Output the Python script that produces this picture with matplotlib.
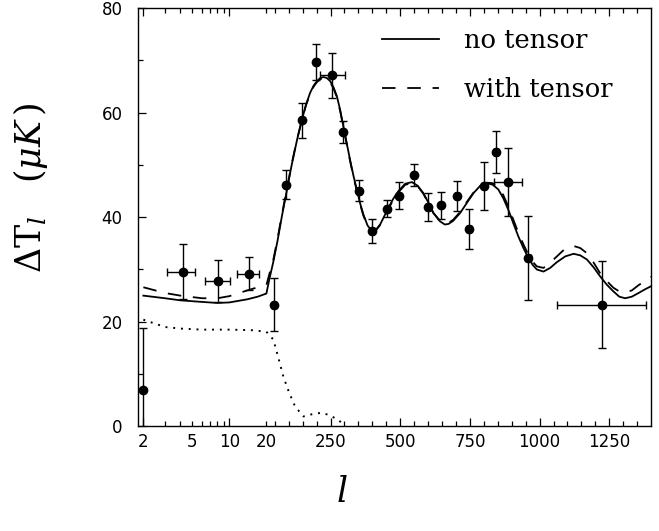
import numpy as np
import matplotlib
matplotlib.use('Agg')
import matplotlib.pyplot as plt
from matplotlib.ticker import FixedLocator, FuncFormatter
from matplotlib.lines import Line2D

plt.rcParams['mathtext.fontset'] = 'dejavuserif'

# --- data ---
# low-l points (log part of the axis)
l_low = [2, 4.18, 8.15, 14.5]
dt_low = [7.0, 29.6, 27.8, 29.2]
dt_low_err = [11.8, 5.2, 4.0, 3.1]
l_low_minus = [0, 1.08, 1.8, 3.0]
l_low_plus = [0, 1.08, 1.95, 3.0]

# high-l band powers
l_hi = [49, 91, 146, 198, 256, 296, 352, 400, 452, 497, 548, 601, 648,
        705, 746, 802, 844, 888, 960, 1223]
dt_hi = [23.3, 46.2, 58.5, 69.7, 67.1, 56.3, 45.1, 37.3, 41.6, 44.1, 48.1,
         41.9, 42.3, 44.0, 37.7, 45.9, 52.5, 46.7, 32.2, 23.3]
dt_hi_err = [5.0, 2.8, 3.4, 3.4, 4.3, 2.1, 2.0, 2.3, 1.6, 2.6, 2.1, 2.7,
             2.6, 2.9, 3.8, 4.6, 4.0, 6.5, 8.0, 8.4]
l_hi_err = [7, 7, 7, 7, 45, 7, 7, 7, 7, 7, 7, 7, 7, 7, 7, 7, 7, 50, 10, 160]

# model curves
l_model = [2, 3, 4, 6, 8, 10, 14, 17, 20, 30, 45, 60, 75, 93, 110, 130,
           147, 162, 177, 190, 201, 213, 225, 237, 249, 261, 273, 285, 296,
           308, 320, 332, 344, 356, 368, 383, 398, 413, 428, 443, 458, 476,
           494, 518, 542, 563, 583, 601, 619, 643, 660, 673, 690, 715, 740,
           763, 787, 811, 832, 852, 870, 888, 906, 924, 942, 960, 975, 990,
           1014, 1038, 1062, 1092, 1122, 1146, 1170, 1194, 1217, 1241, 1265,
           1286, 1307, 1331, 1355, 1378, 1400]
dt_notens = [25.0, 24.5, 24.1, 23.8, 23.6, 23.7, 24.3, 24.8, 25.4, 28.0,
             31.5, 35.5, 40.0, 45.0, 49.8, 54.8, 58.5, 61.5, 63.8, 65.2,
             66.0, 66.6, 66.8, 66.6, 66.0, 64.8, 63.1, 60.4, 57.4, 54.2,
             51.0, 48.0, 45.3, 42.7, 40.5, 38.4, 37.4, 37.6, 38.6, 40.2,
             41.8, 43.6, 45.0, 46.4, 46.7, 46.0, 44.6, 42.8, 40.8, 39.2,
             38.6, 38.7, 39.3, 40.8, 42.8, 44.6, 46.0, 46.5, 46.2, 45.3,
             43.6, 41.4, 38.8, 36.3, 34.1, 32.2, 30.9, 30.0, 29.6, 30.3,
             31.4, 32.5, 33.0, 32.7, 31.9, 30.4, 28.7, 27.1, 25.8, 24.8,
             24.5, 24.8, 25.5, 26.2, 26.8]
dt_tens = [26.6, 25.5, 25.0, 24.5, 24.5, 24.9, 26.0, 26.6, 27.0, 29.0,
           31.9, 35.9, 40.3, 45.3, 50.0, 54.9, 58.5, 61.4, 63.6, 65.0,
           65.8, 66.4, 66.6, 66.4, 65.8, 64.6, 62.9, 60.2, 57.2, 54.0,
           50.8, 47.8, 45.1, 42.5, 40.3, 38.3, 37.3, 37.5, 38.5, 40.0,
           41.6, 43.4, 44.8, 46.2, 46.5, 45.9, 44.5, 42.7, 40.8, 39.3,
           38.8, 38.9, 39.5, 41.0, 43.0, 44.7, 46.1, 46.6, 46.5, 45.8,
           44.2, 42.0, 39.5, 37.0, 34.8, 32.8, 31.5, 30.6, 30.3, 31.3,
           32.5, 34.0, 34.5, 34.1, 33.1, 31.3, 29.3, 27.8, 26.5, 25.8,
           25.6, 26.0, 27.0, 27.8, 28.6]

l_tensonly = [2, 3, 4, 6, 10, 15, 20, 45, 63, 81, 102, 123, 153, 189, 219,
              249, 278, 300]
dt_tensonly = [20.4, 19.0, 18.7, 18.5, 18.5, 18.4, 18.1, 16.6, 13.1, 9.5,
               6.4, 3.8, 1.9, 2.4, 2.6, 2.1, 1.2, 0.3]

x_major = [2, 10, 250, 500, 750, 1000, 1250]
x_minor = [3, 4, 5, 6, 7, 8, 9, 20] + [v for v in range(50, 1400, 50)
                                      if v % 250 != 0]
x_minor_labels = {5: '5', 20: '20'}

# axis: log from 2 to 20, linear above 20
L_BREAK = 20.0
K = 0.2787 / 123.0   # decades per unit of l on the linear part


def fwd(l):
    l = np.asarray(l, dtype=float)
    ub = np.log10(L_BREAK)
    lg = np.log10(np.clip(l, 1e-3, None))
    return np.where(l <= L_BREAK, lg, ub + (l - L_BREAK) * K)


def inv(u):
    u = np.asarray(u, dtype=float)
    ub = np.log10(L_BREAK)
    return np.where(u <= ub, 10 ** np.minimum(u, ub), L_BREAK + (u - ub) / K)


fig = plt.figure(figsize=(6.59, 5.31), dpi=100)
ax = fig.add_axes([0.209, 0.197, 0.779, 0.788])
ax.set_xscale('function', functions=(fwd, inv))

ax.plot(l_model, dt_notens, color='black', lw=1.3, zorder=3)
ax.plot(l_model, dt_tens, color='black', lw=1.3, dashes=(7.5, 6.5), zorder=3)
ax.plot(l_tensonly, dt_tensonly, color='black', lw=1.4,
        linestyle=(0, (1, 3)), zorder=3)

ekw = dict(fmt='o', color='black', ms=6, elinewidth=1.0, capsize=3,
           capthick=1.0, zorder=4)
ax.errorbar(l_low, dt_low, yerr=dt_low_err, xerr=[l_low_minus, l_low_plus],
            **ekw)
ax.errorbar(l_hi, dt_hi, yerr=dt_hi_err, xerr=l_hi_err, **ekw)

ax.set_xlim(1.8, 1400)
ax.set_ylim(0, 80)

ax.xaxis.set_major_locator(FixedLocator(x_major))
ax.xaxis.set_minor_locator(FixedLocator(x_minor))
ax.xaxis.set_major_formatter(FuncFormatter(lambda v, p: '%d' % round(v)))
ax.xaxis.set_minor_formatter(
    FuncFormatter(lambda v, p: x_minor_labels.get(int(round(v)), '')))
ax.set_yticks([0, 20, 40, 60, 80])
ax.set_yticks([10, 30, 50, 70], minor=True)

ax.tick_params(which='both', direction='in', top=True, right=False,
               width=0.9, labelsize=12)
ax.tick_params(which='major', length=6)
ax.tick_params(which='minor', length=3.5)
ax.tick_params(axis='x', which='both', pad=5)
ax.tick_params(axis='y', which='both', pad=11)
for s in ax.spines.values():
    s.set_linewidth(1.0)

ax.set_ylabel(r'$\Delta\mathrm{T}_{l}\ \ \ (\mu K\,)$', fontsize=25)
ax.yaxis.set_label_coords(-0.17, 0.57)
ax.set_xlabel(r'$l$', fontsize=25)
ax.xaxis.set_label_coords(0.398, -0.115)

handles = [Line2D([], [], color='black', lw=1.3),
           Line2D([], [], color='black', lw=1.3, dashes=(7.5, 6.5))]
ax.legend(handles, ['no tensor', 'with tensor'], loc='upper right',
          bbox_to_anchor=(0.9455, 0.977), borderaxespad=0, frameon=False,
          prop=dict(family='DejaVu Serif', size=18.5), handlelength=2.2,
          handletextpad=1.0, labelspacing=0.95)

fig.savefig('out.png', dpi=100)
